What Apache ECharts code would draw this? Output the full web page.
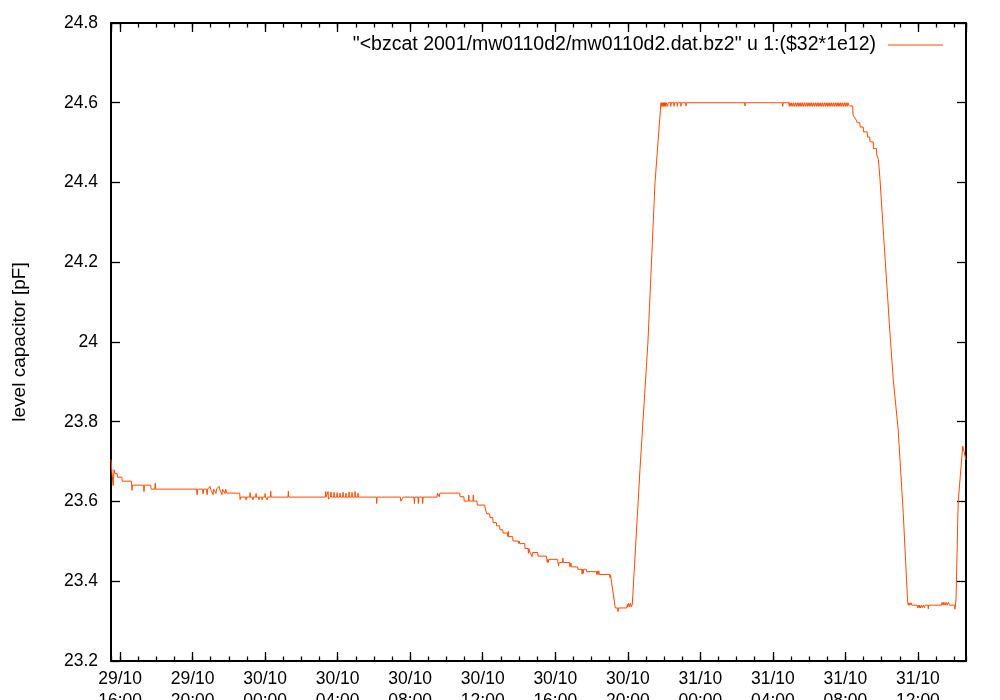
<!DOCTYPE html>
<html>
<head>
<meta charset="utf-8">
<script src="https://cdn.jsdelivr.net/npm/echarts@6/dist/echarts.min.js"></script>
<style>
html,body{margin:0;padding:0;background:#fff;}
#chart{width:1000px;height:700px;}
</style>
</head>
<body>
<div id="chart"></div>
<script>
// hours since 2001-10-29 00:00 (UTC) and level capacitor value [pF]
const seriesName = '"<bzcat 2001/mw0110d2/mw0110d2.dat.bz2" u 1:($32*1e12)';
const yAxisTitle = 'level capacitor [pF]';
const xRangeHours = [15.5, 62.65];
const yRange = [23.2, 24.8];
const yStep = 0.2;
const xStepHours = 4;
const xMinorStepHours = 1;

const samples = [
  [15.50, 23.705], [15.56, 23.670], [15.62, 23.640], [15.67, 23.680], [15.72, 23.670],
  [15.84, 23.670], [15.86, 23.661], [16.10, 23.661], [16.12, 23.651], [16.62, 23.651],
  [16.64, 23.641], [16.66, 23.628], [16.68, 23.641], [17.30, 23.641], [17.32, 23.625],
  [17.34, 23.641], [17.69, 23.641], [17.71, 23.631], [17.92, 23.631], [17.94, 23.646],
  [17.96, 23.631],
  [20.22, 23.631], [20.25, 23.617], [20.28, 23.631],
  [20.55, 23.631], [20.58, 23.619], [20.61, 23.631],
  [20.77, 23.631], [20.80, 23.617], [20.83, 23.631],
  [20.93, 23.631], [20.96, 23.638], [20.99, 23.631],
  [21.10, 23.631], [21.13, 23.617], [21.16, 23.631],
  [21.26, 23.631], [21.29, 23.620], [21.32, 23.631],
  [21.43, 23.631], [21.46, 23.638], [21.49, 23.631],
  [21.59, 23.631], [21.62, 23.617], [21.65, 23.631],
  [21.76, 23.631], [21.79, 23.620], [21.82, 23.631],
  [21.87, 23.631], [21.89, 23.621],
  [22.60, 23.621], [22.62, 23.605], [22.64, 23.611],
  [22.93, 23.611], [22.95, 23.604], [22.97, 23.611],
  [23.15, 23.611], [23.17, 23.622], [23.19, 23.611],
  [23.31, 23.611], [23.33, 23.604], [23.35, 23.611],
  [23.48, 23.611], [23.50, 23.620], [23.52, 23.611],
  [23.64, 23.611], [23.66, 23.604], [23.68, 23.611],
  [23.81, 23.611], [23.83, 23.604], [23.85, 23.611],
  [23.98, 23.611], [24.00, 23.620], [24.02, 23.611],
  [24.09, 23.611], [24.11, 23.604], [24.13, 23.611],
  [24.29, 23.611], [24.31, 23.626], [24.33, 23.611],
  [25.26, 23.611], [25.28, 23.626], [25.30, 23.611],
  [27.32, 23.611], [27.34, 23.625], [27.36, 23.611],
  [27.45, 23.611], [27.47, 23.625], [27.49, 23.606], [27.51, 23.611],
  [27.61, 23.611], [27.63, 23.624], [27.65, 23.611],
  [27.78, 23.611], [27.80, 23.623], [27.82, 23.611],
  [27.95, 23.611], [27.97, 23.622], [27.99, 23.611],
  [28.11, 23.611], [28.13, 23.621], [28.15, 23.611],
  [28.28, 23.611], [28.30, 23.623], [28.32, 23.611],
  [28.44, 23.611], [28.46, 23.621], [28.48, 23.611],
  [28.61, 23.611], [28.63, 23.624], [28.65, 23.611],
  [28.77, 23.611], [28.79, 23.623], [28.81, 23.611],
  [28.94, 23.611], [28.96, 23.625], [28.98, 23.611],
  [29.10, 23.611], [29.12, 23.621], [29.14, 23.611],
  [30.13, 23.611], [30.15, 23.595], [30.17, 23.611],
  [31.46, 23.611], [31.48, 23.601], [31.59, 23.601], [31.61, 23.611],
  [32.21, 23.611], [32.23, 23.595], [32.25, 23.611],
  [32.43, 23.611], [32.45, 23.595], [32.47, 23.611],
  [32.67, 23.611], [32.69, 23.595], [32.71, 23.611],
  [33.48, 23.611], [33.50, 23.621],
  [33.59, 23.621], [33.61, 23.612], [33.63, 23.621],
  [34.73, 23.621], [34.75, 23.612],
  [34.96, 23.612], [34.98, 23.601],
  [35.21, 23.601], [35.23, 23.616], [35.25, 23.601],
  [35.46, 23.601], [35.48, 23.616], [35.50, 23.601],
  [35.68, 23.601], [35.70, 23.591],
  [35.74, 23.591], [35.76, 23.586], [35.78, 23.591],
  [36.11, 23.591], [36.13, 23.583],
  [36.20, 23.583], [36.22, 23.569],
  [36.38, 23.569], [36.40, 23.560],
  [36.55, 23.560], [36.57, 23.547],
  [36.75, 23.547], [36.77, 23.539],
  [36.93, 23.539], [36.95, 23.529],
  [37.10, 23.529], [37.12, 23.521],
  [37.37, 23.521], [37.39, 23.512], [37.41, 23.525], [37.43, 23.512],
  [37.65, 23.512], [37.67, 23.501],
  [37.95, 23.501], [37.98, 23.495], [38.01, 23.501], [38.04, 23.494], [38.06, 23.495],
  [38.31, 23.495], [38.33, 23.482],
  [38.50, 23.482], [38.52, 23.470], [38.54, 23.482],
  [38.59, 23.482], [38.61, 23.472],
  [38.70, 23.472], [38.72, 23.462], [38.74, 23.472],
  [39.03, 23.472], [39.05, 23.463],
  [39.51, 23.463], [39.53, 23.455], [39.56, 23.447], [39.59, 23.455], [39.62, 23.448], [39.65, 23.455],
  [40.13, 23.455], [40.15, 23.447], [40.18, 23.439], [40.21, 23.447],
  [40.40, 23.447], [40.42, 23.458], [40.44, 23.447],
  [40.79, 23.447], [40.81, 23.436], [40.86, 23.446], [40.90, 23.436],
  [41.23, 23.436], [41.25, 23.430],
  [41.46, 23.430], [41.48, 23.418], [41.50, 23.430], [41.54, 23.420], [41.57, 23.430],
  [41.71, 23.430], [41.73, 23.424],
  [42.27, 23.424], [42.29, 23.417], [42.32, 23.426], [42.36, 23.417], [42.40, 23.426], [42.43, 23.417],
  [43.00, 23.417], [43.02, 23.409], [43.05, 23.416], [43.08, 23.405],
  [43.11, 23.409], [43.29, 23.340], [43.31, 23.333],
  [43.44, 23.333], [43.46, 23.324], [43.48, 23.333],
  [43.94, 23.333], [43.97, 23.342], [44.00, 23.335], [44.05, 23.345], [44.10, 23.336],
  [44.15, 23.344], [44.20, 23.336], [44.25, 23.343], [44.30, 23.338],
  [44.67, 23.680], [45.11, 24.000], [45.50, 24.400], [45.81, 24.590], [45.83, 24.600],
  [45.85, 24.591], [45.87, 24.600], [45.90, 24.591], [45.92, 24.600], [45.95, 24.591],
  [45.97, 24.600], [46.00, 24.591], [46.02, 24.600], [46.05, 24.591], [46.07, 24.600],
  [46.10, 24.591], [46.12, 24.600], [46.19, 24.600], [46.20, 24.591], [46.22, 24.600],
  [46.36, 24.600], [46.37, 24.591], [46.39, 24.600], [46.54, 24.600], [46.55, 24.591],
  [46.57, 24.600], [46.72, 24.600], [46.73, 24.591], [46.75, 24.600], [46.92, 24.600],
  [46.93, 24.591], [46.95, 24.600], [47.20, 24.600], [47.21, 24.592], [47.23, 24.600],
  [50.45, 24.600], [50.46, 24.592], [50.48, 24.600],
  [52.53, 24.600], [52.54, 24.591], [52.56, 24.600],
  [52.89, 24.600], [52.90, 24.591], [52.94, 24.600], [53.00, 24.591], [53.04, 24.600],
  [53.10, 24.591], [53.14, 24.600], [53.20, 24.591], [53.24, 24.600], [53.30, 24.591],
  [53.34, 24.600], [53.40, 24.591], [53.44, 24.600], [53.50, 24.591], [53.54, 24.600],
  [53.60, 24.591], [53.64, 24.600], [53.70, 24.591], [53.74, 24.600], [53.80, 24.591],
  [53.84, 24.600], [53.90, 24.591], [53.94, 24.600], [54.00, 24.591], [54.04, 24.600],
  [54.10, 24.591], [54.14, 24.600], [54.20, 24.591], [54.24, 24.600], [54.30, 24.591],
  [54.34, 24.600], [54.40, 24.591], [54.44, 24.600], [54.50, 24.591], [54.54, 24.600],
  [54.60, 24.591], [54.64, 24.600], [54.70, 24.591], [54.74, 24.600], [54.80, 24.591],
  [54.84, 24.600], [54.90, 24.591], [54.94, 24.600], [55.00, 24.591], [55.04, 24.600],
  [55.10, 24.591], [55.14, 24.600], [55.20, 24.591], [55.24, 24.600], [55.30, 24.591],
  [55.34, 24.600], [55.40, 24.591], [55.44, 24.600], [55.50, 24.591], [55.54, 24.600],
  [55.60, 24.591], [55.64, 24.600], [55.70, 24.591], [55.74, 24.600], [55.80, 24.591],
  [55.84, 24.600], [55.90, 24.591], [55.94, 24.600], [56.00, 24.591], [56.04, 24.600],
  [56.10, 24.591], [56.14, 24.600], [56.19, 24.600], [56.21, 24.592],
  [56.40, 24.592], [56.42, 24.569], [56.52, 24.569], [56.54, 24.561], [56.64, 24.561],
  [56.66, 24.550], [56.79, 24.550], [56.81, 24.539], [56.98, 24.539], [57.00, 24.527],
  [57.20, 24.527], [57.22, 24.514], [57.34, 24.514], [57.36, 24.502], [57.53, 24.502],
  [57.55, 24.485], [57.71, 24.485], [57.73, 24.469], [57.80, 24.469], [57.82, 24.458],
  [57.88, 24.458], [57.91, 24.406], [58.13, 24.250], [58.46, 24.020], [58.64, 23.905],
  [58.91, 23.780], [59.19, 23.570], [59.43, 23.349],
  [59.47, 23.340], [59.50, 23.346], [59.55, 23.340], [59.62, 23.346], [59.66, 23.340],
  [59.95, 23.340], [59.98, 23.334], [60.02, 23.340], [60.06, 23.333], [60.10, 23.340],
  [60.15, 23.333], [60.20, 23.340], [60.25, 23.334], [60.30, 23.340], [60.36, 23.334],
  [60.39, 23.340], [60.55, 23.340], [60.57, 23.331], [60.59, 23.340],
  [61.30, 23.340], [61.33, 23.347], [61.38, 23.340], [61.43, 23.347], [61.50, 23.340],
  [61.55, 23.347], [61.62, 23.340], [61.68, 23.347], [61.75, 23.340],
  [62.02, 23.340], [62.04, 23.330], [62.07, 23.343], [62.10, 23.353], [62.22, 23.599],
  [62.47, 23.739], [62.65, 23.704]
];

const HOUR = 3600 * 1000;
const t0 = Date.UTC(2001, 9, 29, 0, 0, 0);
const toTime = h => t0 + h * HOUR;
const lineData = samples.map(p => [toTime(p[0]), p[1]]);

function pad(n) { return (n < 10 ? '0' : '') + n; }
function timeLabel(v) {
  const d = new Date(v);
  return pad(d.getUTCDate()) + '/' + pad(d.getUTCMonth() + 1) + '\n' + pad(d.getUTCHours()) + ':' + pad(d.getUTCMinutes());
}

const FONT = 'Liberation Sans, Arial, Helvetica, sans-serif';
const black = '#000';
const gridBox = { left: 111, right: 34, top: 23, bottom: 39, containLabel: false, outerBoundsMode: 'none' };

// major (4 h) time axes with labels at bottom, ticks mirrored on top
function xAxisMajor(isTop) {
  return {
    type: 'time',
    gridIndex: 0,
    position: isTop ? 'top' : 'bottom',
    min: toTime(xRangeHours[0]),
    max: toTime(xRangeHours[1]),
    minInterval: xStepHours * HOUR,
    maxInterval: xStepHours * HOUR,
    axisLine: { show: true, onZero: false, lineStyle: { color: black, width: 2 } },
    axisTick: { show: true, inside: true, length: 9, lineStyle: { color: black, width: 1.3 } },
    minorTick: { show: false },
    splitLine: { show: false },
    axisLabel: isTop ? { show: false } : {
      show: true, formatter: timeLabel, color: black, fontSize: 17.5, fontFamily: FONT,
      lineHeight: 22, margin: 7, hideOverlap: false, showMinLabel: false, showMaxLabel: false
    }
  };
}
// hourly minor ticks (second, identical grid)
function xAxisMinor(isTop) {
  return {
    type: 'time',
    gridIndex: 1,
    position: isTop ? 'top' : 'bottom',
    min: toTime(xRangeHours[0]),
    max: toTime(xRangeHours[1]),
    minInterval: xMinorStepHours * HOUR,
    maxInterval: xMinorStepHours * HOUR,
    axisLine: { show: false, onZero: false },
    axisTick: { show: true, inside: true, length: 4.5, interval: 0, lineStyle: { color: black, width: 1.3 } },
    minorTick: { show: false },
    splitLine: { show: false },
    axisLabel: { show: false }
  };
}
function yAxisCfg(isRight) {
  const c = {
    type: 'value',
    gridIndex: 0,
    position: isRight ? 'right' : 'left',
    min: yRange[0], max: yRange[1], interval: yStep,
    axisLine: { show: true, onZero: false, lineStyle: { color: black, width: 2 } },
    axisTick: { show: true, inside: true, length: 9, lineStyle: { color: black, width: 1.3 } },
    splitLine: { show: false },
    axisLabel: isRight ? { show: false } : {
      show: true, color: black, fontSize: 17.5, fontFamily: FONT, margin: 13
    }
  };
  if (!isRight) {
    c.name = yAxisTitle;
    c.nameLocation = 'middle';
    c.nameGap = 82;
    c.nameRotate = 90;
    c.nameTextStyle = { color: black, fontSize: 19, fontFamily: FONT };
  }
  return c;
}

const chart = echarts.init(document.getElementById('chart'), null, { renderer: 'canvas' });
chart.setOption({
  animation: false,
  useUTC: true,
  backgroundColor: '#fff',
  grid: [Object.assign({}, gridBox), Object.assign({}, gridBox)],
  legend: {
    show: true,
    right: 52,
    top: 30,
    align: 'right',
    itemWidth: 55,
    itemHeight: 12,
    icon: 'path://M0,6L55,6L55,7L0,7Z',
    textStyle: { color: black, fontSize: 19.5, fontFamily: FONT, padding: [0, 7, 0, 0] },
    data: [seriesName]
  },
  xAxis: [xAxisMajor(false), xAxisMajor(true), xAxisMinor(false), xAxisMinor(true)],
  yAxis: [yAxisCfg(false), yAxisCfg(true),
    { type: 'value', gridIndex: 1, min: yRange[0], max: yRange[1], show: false }],
  series: [{
    name: seriesName,
    type: 'line',
    xAxisIndex: 0,
    yAxisIndex: 0,
    data: lineData,
    showSymbol: false,
    symbol: 'none',
    clip: true,
    lineStyle: { color: '#ff4a00', width: 1 },
    itemStyle: { color: '#ff4a00' }
  }]
});
</script>
</body>
</html>
